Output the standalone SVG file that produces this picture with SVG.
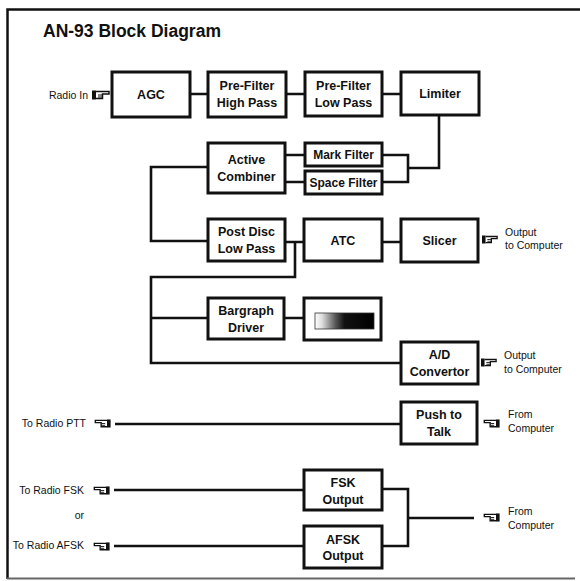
<svg xmlns="http://www.w3.org/2000/svg" xmlns:xlink="http://www.w3.org/1999/xlink" width="580" height="581" viewBox="0 0 580 581">
<defs>
<style>
.box{fill:#fff;stroke:#111;stroke-width:3}
.wire{fill:none;stroke:#111;stroke-width:2.6;stroke-linejoin:miter}
.lbl{font-family:"Liberation Sans",Arial,sans-serif;font-weight:bold;font-size:12.5px;fill:#111;text-anchor:middle}
.sm{font-family:"Liberation Sans",Arial,sans-serif;font-size:10.5px;fill:#111}
.title{font-family:"Liberation Sans",Arial,sans-serif;font-weight:bold;font-size:17.5px;fill:#111}
</style>
<symbol id="hand" viewBox="0 0 18 10" overflow="visible">
<rect x="0" y="0.5" width="4" height="9" fill="#111"/>
<path d="M4,1.6 H17 V4 H10.5 V8.6 H4" fill="none" stroke="#111" stroke-width="1.5"/>
<path d="M6,5 H10 M6,7 H10" stroke="#111" stroke-width="1"/>
</symbol>
<linearGradient id="bar" x1="0" y1="0" x2="1" y2="0">
<stop offset="0" stop-color="#fff"/>
<stop offset="0.12" stop-color="#ddd"/>
<stop offset="0.35" stop-color="#555"/>
<stop offset="0.5" stop-color="#111"/>
<stop offset="1" stop-color="#000"/>
</linearGradient>
</defs>
<rect width="580" height="581" fill="#fff"/>
<g id="frame" fill="none" stroke="#111">
<path d="M7.5,579 V9.5 H580" stroke-width="2.5"/>
<path d="M7,578.5 H575" stroke="#666" stroke-width="2"/>
</g>
<text class="title" x="43" y="37">AN-93 Block Diagram</text>

<g id="connectors">
<path class="wire" d="M190,94 H208 M286,94 H305 M382,94 H401"/>
<path class="wire" d="M439,115 V168 H408 M382,155 H408 V182 H382"/>
<path class="wire" d="M285,155 H305 M285,182 H305"/>
<path class="wire" d="M208,167 H151 V241 H208"/>
<path class="wire" d="M285,242 H304 M382,242 H401"/>
<path class="wire" d="M295,242 V277 H151 V363 H401 M151,318 H208 M284,318 H304"/>
<path class="wire" d="M115,424 H401"/>
<path class="wire" d="M114,490 H304 M114,546 H304"/>
<path class="wire" d="M382,489 H408 V546 H382 M408,518 H474"/>
</g>

<g id="radio-in">
<text class="sm" x="88" y="99" text-anchor="end">Radio In</text>
<use href="#hand" x="92" y="90" width="18" height="10"/>
</g>
<g id="agc"><rect class="box" x="112" y="72" width="78" height="45"/><text class="lbl" x="151" y="99">AGC</text></g>
<g id="prefilter-hp"><rect class="box" x="208" y="72" width="78" height="45"/><text class="lbl" x="247" y="90">Pre-Filter</text><text class="lbl" x="247" y="107">High Pass</text></g>
<g id="prefilter-lp"><rect class="box" x="305" y="72" width="77" height="44"/><text class="lbl" x="343.5" y="90">Pre-Filter</text><text class="lbl" x="343.5" y="107">Low Pass</text></g>
<g id="limiter"><rect class="box" x="401" y="72" width="78" height="43"/><text class="lbl" x="440" y="98">Limiter</text></g>
<g id="active-combiner"><rect class="box" x="208" y="143" width="77" height="50"/><text class="lbl" x="246.5" y="164">Active</text><text class="lbl" x="246.5" y="181">Combiner</text></g>
<g id="mark-filter"><rect class="box" x="305" y="143" width="77" height="23"/><text class="lbl" x="343.5" y="159" style="font-size:12px">Mark Filter</text></g>
<g id="space-filter"><rect class="box" x="305" y="171" width="77" height="23"/><text class="lbl" x="343.5" y="187" style="font-size:12px">Space Filter</text></g>
<g id="post-disc"><rect class="box" x="208" y="219" width="77" height="42"/><text class="lbl" x="246.5" y="236">Post Disc</text><text class="lbl" x="246.5" y="253">Low Pass</text></g>
<g id="atc"><rect class="box" x="304" y="219" width="78" height="42"/><text class="lbl" x="343" y="245">ATC</text></g>
<g id="slicer"><rect class="box" x="401" y="219" width="77" height="43"/><text class="lbl" x="439.5" y="245">Slicer</text></g>
<g id="out-slicer">
<use href="#hand" x="482" y="235" width="16" height="9"/>
<text class="sm" x="505" y="236">Output</text>
<text class="sm" x="505" y="249">to Computer</text>
</g>
<g id="bargraph-driver"><rect class="box" x="208" y="298" width="76" height="41"/><text class="lbl" x="246" y="315">Bargraph</text><text class="lbl" x="246" y="332">Driver</text></g>
<g id="bargraph-display"><rect class="box" x="304" y="298" width="77" height="42"/><rect x="315" y="313" width="59" height="16" fill="url(#bar)" stroke="#333" stroke-width="0.8"/></g>
<g id="ad-convertor"><rect class="box" x="401" y="342" width="77" height="42"/><text class="lbl" x="439.5" y="359">A/D</text><text class="lbl" x="439.5" y="376">Convertor</text></g>
<g id="out-ad">
<use href="#hand" x="481" y="358" width="16" height="9"/>
<text class="sm" x="504" y="359">Output</text>
<text class="sm" x="504" y="373">to Computer</text>
</g>
<g id="ptt-label">
<text class="sm" x="86" y="427" text-anchor="end">To Radio PTT</text>
<g transform="translate(111,419) scale(-1,1)"><use href="#hand" x="0" y="0" width="17" height="9"/></g>
</g>
<g id="push-to-talk"><rect class="box" x="401" y="402" width="76" height="42"/><text class="lbl" x="439" y="419">Push to</text><text class="lbl" x="439" y="436">Talk</text></g>
<g id="from-ptt">
<g transform="translate(500,419) scale(-1,1)"><use href="#hand" x="0" y="0" width="17" height="9"/></g>
<text class="sm" x="508" y="418">From</text>
<text class="sm" x="508" y="432">Computer</text>
</g>
<g id="fsk-labels">
<text class="sm" x="84" y="494" text-anchor="end">To Radio FSK</text>
<g transform="translate(110,486) scale(-1,1)"><use href="#hand" x="0" y="0" width="17" height="9"/></g>
<text class="sm" x="84" y="519" text-anchor="end">or</text>
<text class="sm" x="84" y="549" text-anchor="end">To Radio AFSK</text>
<g transform="translate(110,542) scale(-1,1)"><use href="#hand" x="0" y="0" width="17" height="9"/></g>
</g>
<g id="fsk-output"><rect class="box" x="304" y="470" width="78" height="40"/><text class="lbl" x="343" y="487">FSK</text><text class="lbl" x="343" y="504">Output</text></g>
<g id="afsk-output"><rect class="box" x="304" y="526" width="78" height="42"/><text class="lbl" x="343" y="544">AFSK</text><text class="lbl" x="343" y="560">Output</text></g>
<g id="from-fsk">
<g transform="translate(500,513) scale(-1,1)"><use href="#hand" x="0" y="0" width="17" height="9"/></g>
<text class="sm" x="508" y="515">From</text>
<text class="sm" x="508" y="529">Computer</text>
</g>
</svg>
